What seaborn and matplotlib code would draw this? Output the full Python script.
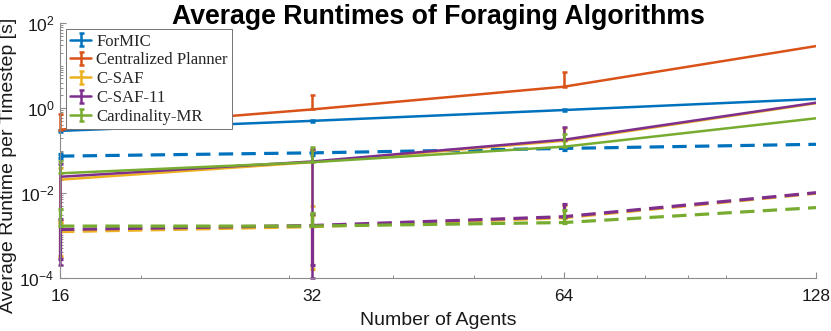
import numpy as np
import pandas as pd
import matplotlib
matplotlib.use("Agg")
import matplotlib.pyplot as plt
import seaborn as sns
from matplotlib.ticker import FixedLocator, FixedFormatter, NullFormatter
from matplotlib.legend_handler import HandlerErrorbar
from matplotlib.container import ErrorbarContainer

# ---------------- data ----------------
agents = [16, 32, 64, 128]
algorithms = ["ForMIC", "Centralized Planner", "C-SAF", "C-SAF-11", "Cardinality-MR"]
colors = ["#0072BD", "#D95319", "#EDB120", "#7E2F8E", "#77AC30"]

# solid-line series (mean runtime per timestep) and their std
formic_solid = [0.29, 0.50, 0.90, 1.64]
formic_solid_err = [0.02, 0.03, 0.05, 0.0]
central_solid = [0.31, 0.93, 3.2, 29.0]
central_solid_err = [0.43, 1.07, 4.0, 0.0]
csaf_solid = [0.0205, 0.053, 0.17, 1.30]
csaf_solid_err = [0.0186, 0.048, 0.17, 0.0]
csaf11_solid = [0.024, 0.055, 0.18, 1.34]
csaf11_solid_err = [0.0238, 0.0549, 0.18, 0.0]
card_solid = [0.029, 0.053, 0.123, 0.575]
card_solid_err = [0.029, 0.066, 0.127, 0.0]

# dashed-line series and their std (Centralized Planner has none)
formic_dashed = [0.0737, 0.088, 0.112, 0.14]
formic_dashed_err = [0.008, 0.008, 0.01, 0.0]
csaf_dashed = [0.00122, 0.0016, 0.0026, 0.0098]
csaf_dashed_err = [0.0009, 0.00144, 0.0026, 0.0]
csaf11_dashed = [0.00137, 0.0017, 0.00275, 0.0101]
csaf11_dashed_err = [0.0011, 0.0015, 0.00275, 0.0]
card_dashed = [0.00165, 0.00165, 0.0020, 0.0045]
card_dashed_err = [0.0025, 0.00175, 0.0020, 0.0]

x_ticks = [16, 32, 64, 128]
x_tick_labels = ["16", "32", "64", "128"]
y_ticks = [1e-4, 1e-2, 1e0, 1e2]
y_tick_labels = [r"$\mathdefault{10^{-4}}$", r"$\mathdefault{10^{-2}}$",
                 r"$\mathdefault{10^{0}}$", r"$\mathdefault{10^{2}}$"]

series = {
    "ForMIC": {"solid": (formic_solid, formic_solid_err), "dashed": (formic_dashed, formic_dashed_err)},
    "Centralized Planner": {"solid": (central_solid, central_solid_err)},
    "C-SAF": {"solid": (csaf_solid, csaf_solid_err), "dashed": (csaf_dashed, csaf_dashed_err)},
    "C-SAF-11": {"solid": (csaf11_solid, csaf11_solid_err), "dashed": (csaf11_dashed, csaf11_dashed_err)},
    "Cardinality-MR": {"solid": (card_solid, card_solid_err), "dashed": (card_dashed, card_dashed_err)},
}

rows = []
for algo, variants in series.items():
    for var, (vals, errs) in variants.items():
        for a, v, e in zip(agents, vals, errs):
            rows.append({"algorithm": algo, "variant": var, "agents": a, "runtime": v, "err": e})
df = pd.DataFrame(rows)

# ---------------- style ----------------
sns.set_theme(style="white")
plt.rcParams["font.family"] = ["Liberation Sans", "DejaVu Sans"]
plt.rcParams["mathtext.default"] = "regular"

fig = plt.figure(figsize=(8.31, 3.31), dpi=100)
ax = fig.add_axes([60 / 831, 1 - 277.7 / 331, 756 / 831, 254.4 / 331])
ax.set_xscale("log")
ax.set_yscale("log")

lw = {"solid": 1.8, "dashed": 2.3}
handles = []
for algo, col in zip(algorithms, colors):
    sub = df[df["algorithm"] == algo]
    n_before = len(ax.get_lines())
    sns.lineplot(data=sub, x="agents", y="runtime", style="variant", size="variant",
                 style_order=["solid", "dashed"], sizes=lw,
                 dashes={"solid": "", "dashed": (4.5, 2.6)},
                 color=col, legend=False, ax=ax, estimator=None, sort=True)
    solid_line = ax.get_lines()[n_before]
    first = None
    for var in ["solid", "dashed"]:
        s = sub[(sub["variant"] == var) & (sub["err"] > 0)]
        if s.empty:
            continue
        v = s["runtime"].to_numpy()
        e = s["err"].to_numpy()
        lower = np.where(v - e > 1e-7, e, 0.0)
        cont = ax.errorbar(s["agents"], v, yerr=[lower, e], fmt="none", ecolor=col,
                           elinewidth=lw[var], capsize=1.8, capthick=lw[var], clip_on=False)
        if first is None:
            first = cont
    handles.append(ErrorbarContainer((solid_line, first.lines[1], first.lines[2]),
                                     has_xerr=False, has_yerr=True, label=algo))

ax.set_xlim(16, 128)
ax.set_ylim(1e-4, 1e2)

ax.xaxis.set_major_locator(FixedLocator(x_ticks))
ax.xaxis.set_major_formatter(FixedFormatter(x_tick_labels))
ax.xaxis.set_minor_locator(FixedLocator([20, 30, 40, 50, 60, 70, 80, 90, 100]))
ax.xaxis.set_minor_formatter(NullFormatter())
ax.yaxis.set_major_locator(FixedLocator(y_ticks))
ax.yaxis.set_major_formatter(FixedFormatter(y_tick_labels))
yminor = [m * 10.0 ** k for k in range(-4, 2) for m in range(1, 10) if not (m == 1 and k % 2 == 0)]
ax.yaxis.set_minor_locator(FixedLocator(yminor))
ax.yaxis.set_minor_formatter(NullFormatter())

ax.tick_params(which="both", direction="in", colors="0.55", labelcolor="0.1",
               labelsize=12.5, top=False, right=False, left=True, bottom=True)
ax.tick_params(which="major", length=4, width=0.8)
ax.tick_params(axis="x", which="major", pad=8)
ax.tick_params(axis="y", which="major", pad=4)
ax.tick_params(which="minor", length=2.5, width=0.7)
for sp in ["top", "right"]:
    ax.spines[sp].set_visible(False)
for sp in ["left", "bottom"]:
    ax.spines[sp].set_color("0.55")
    ax.spines[sp].set_linewidth(0.8)

ax.set_xlabel("Number of Agents", fontsize=14, color="0.1", labelpad=6)
ax.set_ylabel("Average Runtime per Timestep [s]", fontsize=14, color="0.1")
ax.yaxis.set_label_coords((17 - 60) / 756, (277.7 - 165) / 254.4)

fig.text(438 / 831, 1 - 24.5 / 331, "Average Runtimes of Foraging Algorithms",
         fontsize=19.2, fontweight="bold", color="black", ha="center", va="baseline")

leg = ax.legend(handles=handles, labels=algorithms, loc="upper left",
                bbox_to_anchor=(6 / 756, 1 - 6 / 254.4), borderaxespad=0,
                prop={"family": "Liberation Serif", "size": 12.1},
                frameon=True, fancybox=False, framealpha=1, edgecolor="0.45",
                borderpad=0.25, labelspacing=0.17, handlelength=1.25,
                handletextpad=0.3,
                handler_map={ErrorbarContainer: HandlerErrorbar(yerr_size=0.38, numpoints=1)})
leg.get_frame().set_linewidth(0.7)
leg.set_zorder(10)

fig.savefig("out.png", dpi=100)
